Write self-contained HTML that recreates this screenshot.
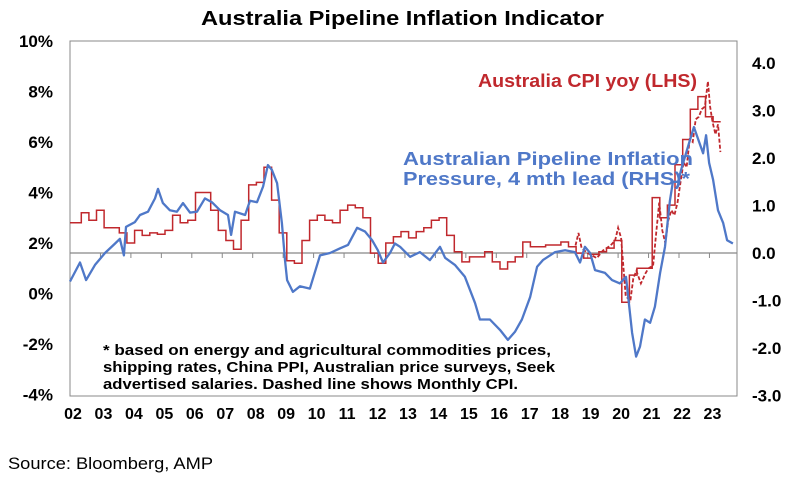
<!DOCTYPE html>
<html><head><meta charset="utf-8"><style>
body{margin:0;background:#fff;width:810px;height:478px;overflow:hidden;font-family:"Liberation Sans",Arial,sans-serif}
</style></head><body>
<svg id="chart" width="810" height="478" xmlns="http://www.w3.org/2000/svg">
<text x="201" y="25" font-size="20" font-weight="bold" textLength="403" lengthAdjust="spacingAndGlyphs">Australia Pipeline Inflation Indicator</text>
<rect x="70" y="41" width="667" height="355" fill="none" stroke="#888" stroke-width="1"/>
<g id="axes"></g>
<g id="series"></g>
<text x="478" y="87" font-size="18" font-weight="bold" fill="#c0282d" textLength="219" lengthAdjust="spacingAndGlyphs">Australia CPI yoy (LHS)</text>
<text x="403" y="165" font-size="18" font-weight="bold" fill="#4f78c8" textLength="290" lengthAdjust="spacingAndGlyphs">Australian Pipeline Inflation</text>
<text x="403" y="185" font-size="18" font-weight="bold" fill="#4f78c8" textLength="287" lengthAdjust="spacingAndGlyphs">Pressure, 4 mth lead (RHS)*</text>
<g font-size="14.5" font-weight="bold">
<text x="103" y="355" textLength="448" lengthAdjust="spacingAndGlyphs">* based on energy and agricultural commodities prices,</text>
<text x="103" y="372" textLength="452" lengthAdjust="spacingAndGlyphs">shipping rates, China PPI, Australian price surveys, Seek</text>
<text x="103" y="389" textLength="415" lengthAdjust="spacingAndGlyphs">advertised salaries. Dashed line shows Monthly CPI.</text>
</g>
<text x="8" y="469" font-size="17" textLength="205" lengthAdjust="spacingAndGlyphs">Source: Bloomberg, AMP</text>
</svg>
<script>
const years=["02","03","04","05","06","07","08","09","10","11","12","13","14","15","16","17","18","19","20","21","22","23"];
const leftTicks=[10,8,6,4,2,0,-2,-4];
const rightTicks=[4,3,2,1,0,-1,-2,-3];
const cpiStart=2002.12;
const cpiQ=[2.8,3.2,2.9,3.3,2.6,2.6,2.4,2.0,2.5,2.3,2.4,2.35,2.5,3.1,2.8,2.9,4.0,4.0,3.3,2.5,2.1,1.75,2.9,4.3,4.4,5.0,3.7,2.4,1.3,1.2,2.1,2.9,3.1,2.9,2.8,3.3,3.5,3.4,3.0,1.6,1.2,2.0,2.25,2.45,2.2,2.45,2.6,2.9,3.0,2.3,1.65,1.25,1.45,1.45,1.65,1.25,0.97,1.25,1.45,2.04,1.85,1.85,1.92,1.92,2.04,1.85,1.6,1.4,1.55,1.65,1.8,2.1,-0.35,0.73,1.0,1.0,3.8,3.0,3.5,5.1,6.1,7.3,7.8,7.0,6.8];
const monthlyT=[2018.6,2018.7,2018.8,2019.0,2019.3,2019.5,2019.75,2019.9,2020.0,2020.1,2020.25,2020.4,2020.5,2020.6,2020.75,2020.9,2021.0,2021.15,2021.25,2021.35,2021.45,2021.55,2021.65,2021.75,2021.85,2021.95,2022.05,2022.15,2022.25,2022.35,2022.45,2022.55,2022.65,2022.75,2022.85,2022.95,2023.02,2023.1,2023.2,2023.28,2023.36];
const monthlyV=[1.9,2.4,1.8,1.6,1.4,1.7,1.9,2.1,2.6,2.2,-0.1,-0.3,0.6,0.9,0.4,0.8,1.0,1.1,2.4,3.6,2.5,2.0,2.9,3.3,3.1,3.6,4.4,5.2,5.0,6.1,6.0,6.9,7.0,7.3,7.4,8.4,7.4,6.8,6.3,6.7,5.6];
const pipeT=[2002.00,2002.33,2002.53,2002.82,2003.15,2003.48,2003.64,2003.77,2003.84,2004.13,2004.30,2004.56,2004.79,2004.89,2005.05,2005.28,2005.51,2005.71,2005.94,2006.17,2006.43,2006.66,2006.93,2007.19,2007.29,2007.42,2007.75,2007.91,2008.14,2008.34,2008.50,2008.63,2008.80,2008.96,2009.06,2009.13,2009.32,2009.55,2009.88,2010.21,2010.54,2010.87,2011.13,2011.43,2011.69,2011.92,2012.11,2012.28,2012.51,2012.67,2012.84,2013.17,2013.49,2013.82,2014.15,2014.32,2014.64,2014.97,2015.30,2015.46,2015.79,2016.12,2016.38,2016.61,2016.84,2017.11,2017.34,2017.53,2017.93,2018.26,2018.58,2018.75,2018.91,2019.08,2019.24,2019.57,2019.80,2020.06,2020.26,2020.46,2020.59,2020.72,2020.88,2021.05,2021.21,2021.38,2021.54,2021.70,2021.80,2021.97,2022.07,2022.23,2022.36,2022.49,2022.66,2022.79,2022.89,2022.99,2023.12,2023.28,2023.45,2023.58,2023.77];
const pipeV=[-0.6,-0.2,-0.57,-0.25,0.0,0.2,0.3,-0.05,0.55,0.65,0.8,0.87,1.15,1.35,1.05,0.9,0.87,1.05,0.85,0.87,1.15,1.07,0.9,0.8,0.38,0.87,0.8,1.1,1.07,1.4,1.85,1.75,1.47,0.63,-0.15,-0.57,-0.82,-0.7,-0.75,-0.05,0.0,0.1,0.17,0.53,0.45,0.27,0.06,-0.2,0.0,0.2,0.13,-0.08,0.02,-0.15,0.13,-0.1,-0.25,-0.5,-1.05,-1.4,-1.4,-1.62,-1.83,-1.66,-1.4,-0.93,-0.29,-0.15,0.02,0.06,0.02,-0.2,0.13,0.0,-0.36,-0.42,-0.57,-0.64,-0.5,-1.68,-2.18,-1.97,-1.4,-1.47,-1.13,-0.42,0.13,1.1,1.5,1.5,1.75,2.1,2.38,2.65,2.34,2.1,2.48,1.9,1.54,0.9,0.63,0.27,0.2];

const NS="http://www.w3.org/2000/svg";
const x=t=>70+(t-2002)*30.45;
const yL=v=>293.5-v*25.25;
const yR=v=>253-v*47.5;
function mk(tag,attrs,parent){const e=document.createElementNS(NS,tag);for(const k in attrs)e.setAttribute(k,attrs[k]);parent.appendChild(e);return e;}
const axes=document.getElementById('axes'), ser=document.getElementById('series');

const zl=mk('line',{x1:70,x2:737,y1:yR(0),y2:yR(0),stroke:'#888','stroke-width':1.2},axes);


years.forEach((lab,i)=>{
  const tk=mk('line',{x1:x(2002+i),x2:x(2002+i),y1:yR(0),y2:yR(0)+5,stroke:'#888'},axes);
  
  
  const t=mk('text',{x:x(2002+i)+3,y:419,'text-anchor':'middle','font-size':16,'font-weight':'bold'},axes);
  t.textContent=lab;
  
  
});
leftTicks.forEach(v=>{
  const t=mk('text',{x:53,y:yL(v)+6,'text-anchor':'end','font-size':17,'font-weight':'bold'},axes);
  t.textContent=v+'%';
  
  
});
rightTicks.forEach(v=>{
  const t=mk('text',{x:752,y:yR(v)+6,'font-size':17,'font-weight':'bold'},axes);
  t.textContent=v.toFixed(1);
  
  
});

let d='';
cpiQ.forEach((v,i)=>{const t0=cpiStart+i*0.25;const t1=Math.min(t0+0.25,2023.55);
  d+=(i===0?'M'+x(2002).toFixed(1)+','+yL(v).toFixed(1)+'L':'L')+x(t0).toFixed(1)+','+yL(v).toFixed(1)+'L'+x(t1).toFixed(1)+','+yL(v).toFixed(1);});
const cpi=mk('path',{d:d,fill:'none',stroke:'#c0282d','stroke-width':1.5},ser);



let d2='';
monthlyT.forEach((t,i)=>{d2+=(i===0?'M':'L')+x(t).toFixed(1)+','+yL(monthlyV[i]).toFixed(1);});
const mc=mk('path',{d:d2,fill:'none',stroke:'#c0282d','stroke-width':1.8,'stroke-dasharray':'4,2'},ser);



let d3='';
pipeT.forEach((t,i)=>{d3+=(i===0?'M':'L')+x(t).toFixed(1)+','+yR(pipeV[i]).toFixed(1);});
const pl=mk('path',{d:d3,fill:'none',stroke:'#4f78c8','stroke-width':2.3,'stroke-linejoin':'round'},ser);


</script>
</body></html>
